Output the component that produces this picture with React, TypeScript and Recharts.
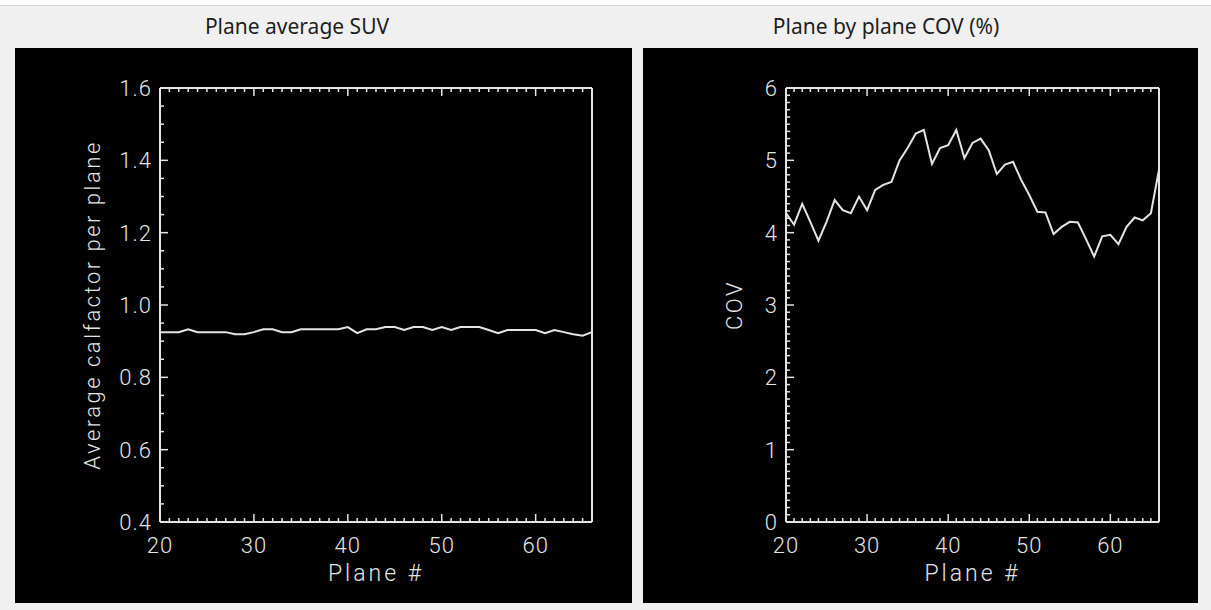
import { Label, Line, LineChart, XAxis, YAxis } from "recharts"

// plane numbers shown on both charts
const planes = [
  20, 21, 22, 23, 24, 25, 26, 27, 28, 29, 30, 31, 32, 33, 34, 35, 36, 37, 38, 39, 40, 41, 42, 43,
  44, 45, 46, 47, 48, 49, 50, 51, 52, 53, 54, 55, 56, 57, 58, 59, 60, 61, 62, 63, 64, 65, 66,
]

// average calfactor per plane (left)
const suvValues = [
  0.925, 0.925, 0.925, 0.933, 0.925, 0.925, 0.925, 0.925, 0.919, 0.919, 0.925, 0.933, 0.933, 0.925,
  0.925, 0.933, 0.933, 0.933, 0.933, 0.933, 0.939, 0.922, 0.933, 0.933, 0.939, 0.939, 0.931, 0.939,
  0.939, 0.931, 0.939, 0.931, 0.939, 0.939, 0.939, 0.931, 0.922, 0.931, 0.931, 0.931, 0.931, 0.922,
  0.931, 0.925, 0.919, 0.915, 0.925,
]

// plane by plane COV in % (right)
const covValues = [
  4.27, 4.11, 4.4, 4.15, 3.89, 4.15, 4.45, 4.31, 4.27, 4.5, 4.31, 4.59, 4.66, 4.7, 5.0, 5.17, 5.37,
  5.42, 4.95, 5.17, 5.21, 5.42, 5.03, 5.24, 5.3, 5.14, 4.81, 4.94, 4.98, 4.73, 4.52, 4.29, 4.28, 3.98,
  4.08, 4.15, 4.14, 3.91, 3.67, 3.95, 3.97, 3.84, 4.08, 4.21, 4.17, 4.27, 4.87,
]

const planeLabels = [20, 30, 40, 50, 60]
const suvLabels = [0.4, 0.6, 0.8, 1.0, 1.2, 1.4, 1.6]
const covLabels = [0, 1, 2, 3, 4, 5, 6]

const suvData = planes.map((plane, i) => ({ plane, value: suvValues[i] }))
const covData = planes.map((plane, i) => ({ plane, value: covValues[i] }))

const steps = (from: number, to: number, step: number) => {
  const out: number[] = []
  const n = Math.round((to - from) / step)
  for (let i = 0; i <= n; i++) out.push(+(from + i * step).toFixed(4))
  return out
}

const FG = "#e4e4e4"
const TICK_FONT = "Roboto, 'DejaVu Sans', sans-serif"

const isIn = (list: number[], v: number) => list.some((l) => Math.abs(l - v) < 1e-6)

function xTick(side: "top" | "bottom", labels: number[] | null) {
  return (p: any) => {
    const v = p.payload.value
    const major = isIn(planeLabels, v)
    const len = major ? 8 : 4
    const dir = side === "bottom" ? -1 : 1
    return (
      <g>
        <line x1={p.x} x2={p.x} y1={p.y} y2={p.y + dir * len} stroke={FG} strokeWidth={1.5} />
        {labels && major && (
          <text
            x={p.x}
            y={p.y + 31}
            textAnchor="middle"
            fill={FG}
            fontSize={22}
            fontFamily={TICK_FONT}
            fontWeight={300}
            letterSpacing={1}
          >
            {v}
          </text>
        )}
      </g>
    )
  }
}

function yTick(side: "left" | "right", labels: number[], digits: number) {
  return (p: any) => {
    const v = p.payload.value
    const major = isIn(labels, v)
    const len = major ? 8 : 4
    const dir = side === "left" ? 1 : -1
    return (
      <g>
        <line x1={p.x} x2={p.x + dir * len} y1={p.y} y2={p.y} stroke={FG} strokeWidth={1.5} />
        {side === "left" && major && (
          <text
            x={p.x - 8}
            y={p.y + 8}
            textAnchor="end"
            fill={FG}
            fontSize={22}
            fontFamily={TICK_FONT}
            fontWeight={300}
            letterSpacing={1}
          >
            {v.toFixed(digits)}
          </text>
        )}
      </g>
    )
  }
}

type PanelProps = {
  title: string
  titleX: number
  left: number
  width: number
  data: { plane: number; value: number }[]
  yDomain: [number, number]
  yTicks: number[]
  yLabels: number[]
  digits: number
  yTitle: string
  yTitleDx: number
  plotLeft: number
  plotRight: number
}

function Panel(props: PanelProps) {
  const xTicks = steps(20, 66, 1)
  const axisLine = { stroke: FG, strokeWidth: 2 }
  return (
    <>
      <div
        style={{
          position: "absolute",
          left: props.titleX - 200,
          width: 400,
          top: 12,
          textAlign: "center",
          fontFamily: "'Noto Sans', sans-serif",
          fontSize: 21,
          color: "#1e1e1e",
        }}
      >
        {props.title}
      </div>
      <div style={{ position: "absolute", left: props.left, top: 48, width: props.width, height: 555, background: "#000" }}>
        <LineChart width={props.width} height={555} data={props.data} margin={{ top: 0, right: 0, bottom: 0, left: 0 }}>
          <XAxis
            xAxisId="bottom"
            dataKey="plane"
            type="number"
            domain={[20, 66]}
            ticks={xTicks}
            interval={0}
            orientation="bottom"
            height={81}
            tickSize={0}
            tickMargin={0}
            axisLine={axisLine}
            tickLine={false}
            tick={xTick("bottom", planeLabels)}
          >
            <Label
              value="Plane #"
              position="center"
              dy={10}
              fill={FG}
              fontSize={23}
              fontFamily={TICK_FONT}
              fontWeight={300}
              letterSpacing={3}
            />
          </XAxis>
          <XAxis
            xAxisId="top"
            dataKey="plane"
            type="number"
            domain={[20, 66]}
            ticks={xTicks}
            interval={0}
            orientation="top"
            height={40}
            tickSize={0}
            tickMargin={0}
            axisLine={axisLine}
            tickLine={false}
            tick={xTick("top", null)}
          />
          <YAxis
            yAxisId="left"
            type="number"
            domain={props.yDomain}
            ticks={props.yTicks}
            interval={0}
            orientation="left"
            width={props.plotLeft}
            tickSize={0}
            tickMargin={0}
            axisLine={axisLine}
            tickLine={false}
            tick={yTick("left", props.yLabels, props.digits)}
          >
            <Label
              value={props.yTitle}
              angle={-90}
              position="center"
              dx={props.yTitleDx}
              fill={FG}
              fontSize={22}
              fontFamily={TICK_FONT}
              fontWeight={300}
              letterSpacing={2.5}
            />
          </YAxis>
          <YAxis
            yAxisId="right"
            type="number"
            domain={props.yDomain}
            ticks={props.yTicks}
            interval={0}
            orientation="right"
            width={props.plotRight}
            tickSize={0}
            tickMargin={0}
            axisLine={axisLine}
            tickLine={false}
            tick={yTick("right", props.yLabels, props.digits)}
          />
          <Line
            xAxisId="bottom"
            yAxisId="left"
            dataKey="value"
            type="linear"
            stroke={FG}
            strokeWidth={2}
            dot={false}
            isAnimationActive={false}
          />
        </LineChart>
      </div>
    </>
  )
}

export default function App() {
  return (
    <div
      style={{
        position: "absolute",
        left: 0,
        top: 0,
        width: 1211,
        height: 610,
        background: "#f0f0f0",
        borderTop: "5px solid #fff",
        boxSizing: "border-box",
        overflow: "hidden",
      }}
    >
      <div style={{ position: "absolute", left: 0, top: 0, width: 1211, height: 1, background: "#d6d6d6" }} />
      <div style={{ position: "absolute", left: 0, top: -5, width: 1211, height: 610 }}>
        <Panel
          title="Plane average SUV"
          titleX={297}
          left={15}
          width={617}
          data={suvData}
          yDomain={[0.4, 1.6]}
          yTicks={steps(0.4, 1.6, 0.05)}
          yLabels={suvLabels}
          digits={1}
          yTitle="Average calfactor per plane"
          yTitleDx={5}
          plotLeft={145}
          plotRight={40}
        />
        <Panel
          title="Plane by plane COV (%)"
          titleX={886}
          left={643}
          width={555}
          data={covData}
          yDomain={[0, 6]}
          yTicks={steps(0, 6, 0.1)}
          yLabels={covLabels}
          digits={0}
          yTitle="COV"
          yTitleDx={20}
          plotLeft={143}
          plotRight={39}
        />
      </div>
    </div>
  )
}
